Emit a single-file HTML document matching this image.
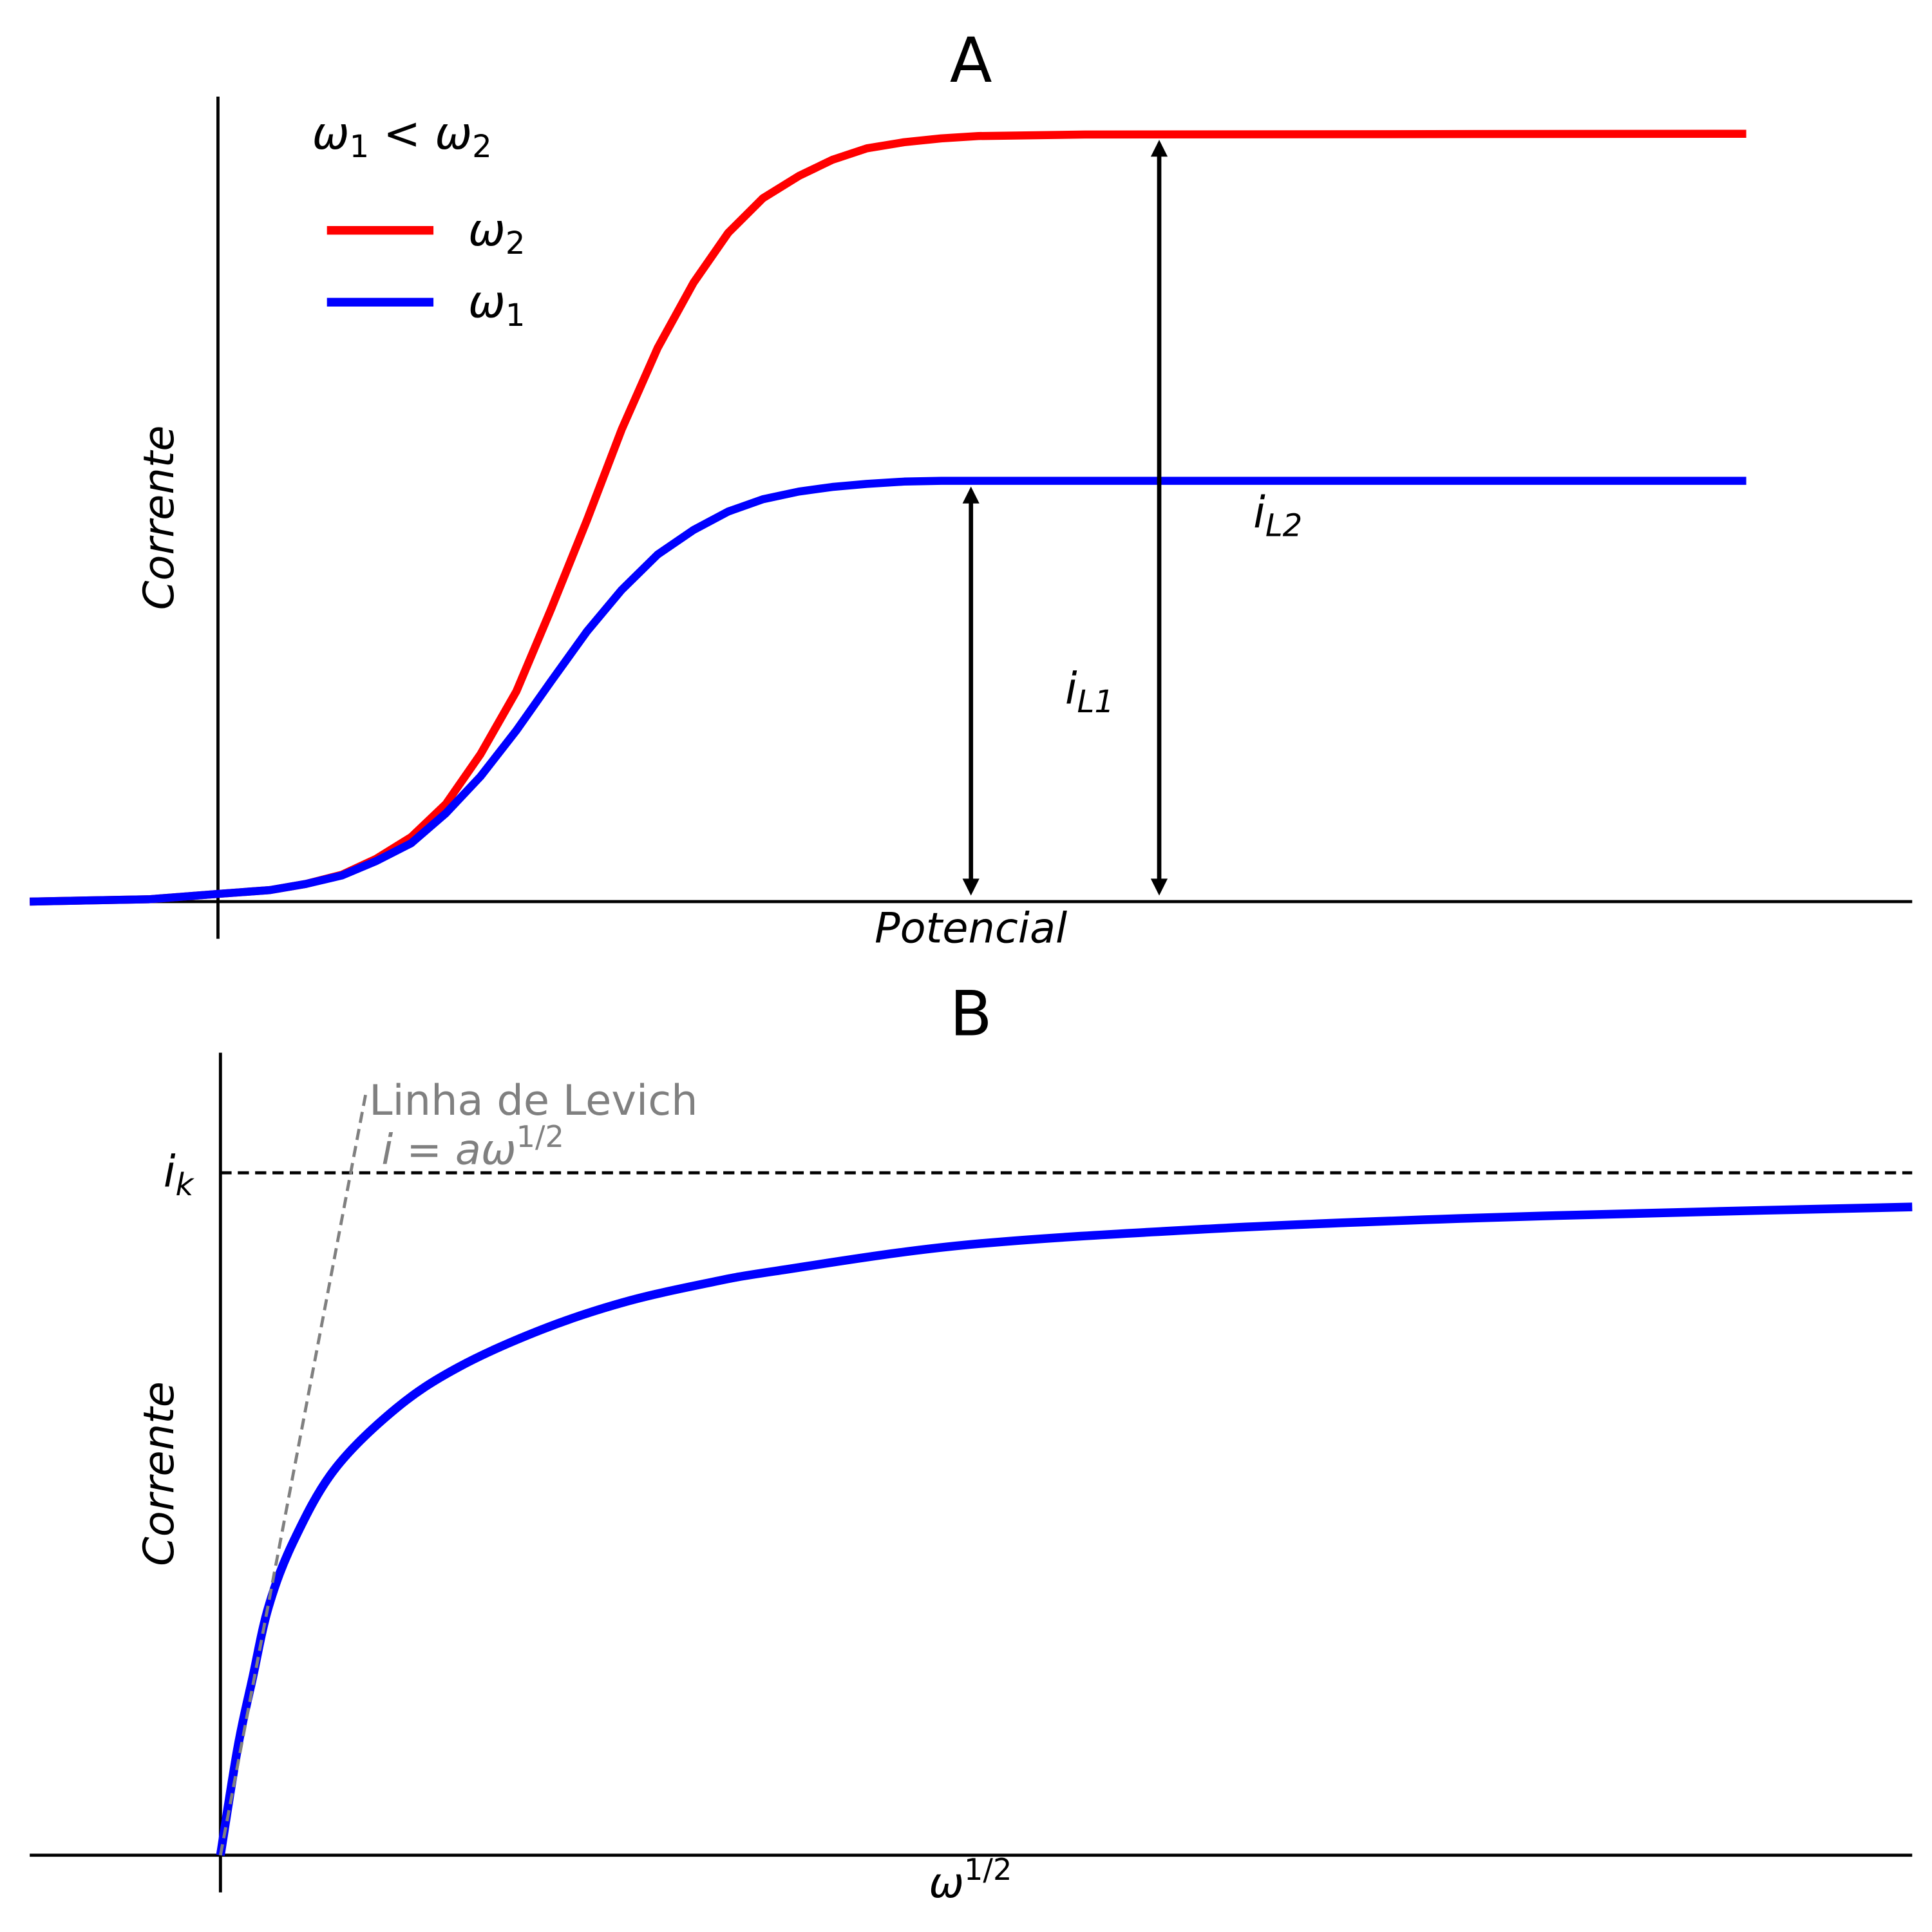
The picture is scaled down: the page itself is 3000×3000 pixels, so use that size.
<!DOCTYPE html>
<html><head><meta charset="utf-8"><style>
html,body{margin:0;padding:0;background:#fff;}
svg{display:block;}
text{font-family:"DejaVu Sans","Liberation Sans",sans-serif;}
.it{font-style:italic;}
</style></head>
<body>
<svg id="fig" width="3000" height="3000" viewBox="0 0 1560 1560" xmlns="http://www.w3.org/2000/svg">
  <rect x="0" y="0" width="1560" height="1560" fill="#fff"/>
  <!-- Panel A -->
  <g id="panelA">
    <text x="784" y="66" font-size="50" text-anchor="middle">A</text>
    <line x1="176" y1="78" x2="176" y2="758" stroke="#000" stroke-width="2.5"/>
    <line x1="24" y1="728" x2="1544" y2="728" stroke="#000" stroke-width="2.5"/>
    <text class="it" x="0" y="0" font-size="34" text-anchor="middle" transform="translate(140,418) rotate(-90)">Corrente</text>
    <text class="it" x="784" y="761" font-size="34" text-anchor="middle">Potencial</text>
    <g id="curvesA"></g>
    <g stroke="#000" stroke-width="3.5" fill="#000">
      <line x1="784" y1="402" x2="784" y2="714"/>
      <path d="M778,406 L784,394 L790,406 Z" stroke-width="1"/>
      <path d="M778,710 L784,722 L790,710 Z" stroke-width="1"/>
    </g>
    <g stroke="#000" stroke-width="3.5" fill="#000">
      <line x1="936" y1="122" x2="936" y2="714"/>
      <path d="M930,126 L936,114 L942,126 Z" stroke-width="1"/>
      <path d="M930,710 L936,722 L942,710 Z" stroke-width="1"/>
    </g>
    <text class="it" x="860" y="568" font-size="35">i<tspan font-size="25" dy="7">L1</tspan></text>
    <text class="it" x="1012" y="426" font-size="35">i<tspan font-size="25" dy="7">L2</tspan></text>
    <g>
      <text x="252" y="120" font-size="36"><tspan class="it">ω</tspan><tspan font-size="25" dy="7">1</tspan><tspan dy="-7"> &lt; </tspan><tspan class="it">ω</tspan><tspan font-size="25" dy="7">2</tspan></text>
      <line x1="264" y1="186" x2="350" y2="186" stroke="#ff0000" stroke-width="7"/>
      <text x="378" y="198" font-size="36"><tspan class="it">ω</tspan><tspan font-size="25" dy="7">2</tspan></text>
      <line x1="264" y1="244" x2="350" y2="244" stroke="#0000ff" stroke-width="7"/>
      <text x="378" y="256" font-size="36"><tspan class="it">ω</tspan><tspan font-size="25" dy="7">1</tspan></text>
    </g>
  </g>
  <!-- Panel B -->
  <g id="panelB">
    <text x="784" y="836" font-size="50" text-anchor="middle">B</text>
    <line x1="178" y1="850" x2="178" y2="1528" stroke="#000" stroke-width="2.5"/>
    <line x1="24" y1="1498" x2="1544" y2="1498" stroke="#000" stroke-width="2.5"/>
    <text class="it" x="0" y="0" font-size="34" text-anchor="middle" transform="translate(140,1190) rotate(-90)">Corrente</text>
    <text x="750" y="1532" font-size="34"><tspan class="it">ω</tspan><tspan font-size="24" dy="-14">1/2</tspan></text>
    <text class="it" x="132" y="958" font-size="35">i<tspan font-size="25" dy="7">k</tspan></text>
    <g id="curvesB"></g>
    <text x="298" y="900" font-size="34" fill="#808080">Linha de Levich</text>
    <text x="308" y="940" font-size="34" fill="#808080"><tspan class="it">i</tspan> = <tspan class="it">aω</tspan><tspan font-size="24" dy="-14">1/2</tspan></text>
  </g>
</svg>
<script>
// Panel A data
const potentialA = [-1.52,-0.56,0,0.42,0.71,1.0,1.28,1.56,1.84,2.12,2.41,2.69,2.98,3.26,3.55,3.84,4.12,4.40,4.69,4.96,5.24,5.54,5.84,6.14,7.0,12.34];
const currentOmega2 = [0,0.3,1.0,1.5,2.3,3.5,5.6,8.4,12.7,19.2,27.4,38.1,49.7,61.5,72.1,80.6,87.1,91.6,94.5,96.6,98.1,98.9,99.4,99.7,99.9,100];
const currentOmega1 = [0,0.3,1.0,1.5,2.3,3.4,5.3,7.6,11.5,16.3,22.3,28.7,35.2,40.6,45.2,48.4,50.8,52.4,53.4,54.0,54.4,54.7,54.8,54.8,54.8,54.8];
// Panel B data
const omegaSqrt = [0,0.14,0.26,0.39,0.59,0.92,1.42,1.92,2.59,3.25,3.92,4.48,6.0,8.0,10.0,12.0,13.66];
const currentB = [0,15.8,26.0,36.5,46.0,56.5,65.5,71.5,77.0,81.0,83.8,85.6,89.4,91.8,93.3,94.3,95.0];
const ikValue = [100];
const levichSlope = [95.1];
const levichEnd = [1.18];

const NS = 'http://www.w3.org/2000/svg';
// axis functions
const xA = e => 176 + e * 100;
const yA = i => 728 - i * 6.2;
const xB = w => 178 + w * 100;
const yB = i => 1498 - i * 5.51;

function smoothPath(pts){
  let d = 'M' + pts[0][0].toFixed(2) + ',' + pts[0][1].toFixed(2);
  for (let k = 0; k < pts.length - 1; k++) {
    const p0 = pts[k-1] || pts[k], p1 = pts[k], p2 = pts[k+1], p3 = pts[k+2] || pts[k+1];
    const c1 = [p1[0] + (p2[0]-p0[0])/6, p1[1] + (p2[1]-p0[1])/6];
    const c2 = [p2[0] - (p3[0]-p1[0])/6, p2[1] - (p3[1]-p1[1])/6];
    d += ' C' + c1.join(',') + ' ' + c2.join(',') + ' ' + p2.join(',');
  }
  return d;
}
function polyPath(pts){ return 'M' + pts.map(p => p[0].toFixed(2)+','+p[1].toFixed(2)).join(' L'); }

const gA = document.getElementById('curvesA');
const pr = document.createElementNS(NS, 'path');
pr.setAttribute('d', polyPath(potentialA.map((e,k)=>[xA(e), yA(currentOmega2[k])])));
pr.setAttribute('fill','none'); pr.setAttribute('stroke','#ff0000'); pr.setAttribute('stroke-width','6.5'); pr.setAttribute('stroke-linejoin','round');


gA.appendChild(pr);
const pb = document.createElementNS(NS, 'path');
pb.setAttribute('d', polyPath(potentialA.map((e,k)=>[xA(e), yA(currentOmega1[k])])));
pb.setAttribute('fill','none'); pb.setAttribute('stroke','#0000ff'); pb.setAttribute('stroke-width','6.5'); pb.setAttribute('stroke-linejoin','round');


gA.appendChild(pb);

const gB = document.getElementById('curvesB');
const ik = document.createElementNS(NS, 'line');
ik.setAttribute('x1', xB(0)); ik.setAttribute('x2', 1544);
ik.setAttribute('y1', yB(ikValue[0])); ik.setAttribute('y2', yB(ikValue[0]));
ik.setAttribute('stroke','#000'); ik.setAttribute('stroke-width','2.5'); ik.setAttribute('stroke-dasharray','9,5');


gB.appendChild(ik);
const cb = document.createElementNS(NS, 'path');
cb.setAttribute('d', smoothPath(omegaSqrt.map((w,k)=>[xB(w), yB(currentB[k])])));
cb.setAttribute('fill','none'); cb.setAttribute('stroke','#0000ff'); cb.setAttribute('stroke-width','7');


gB.appendChild(cb);
const lv = document.createElementNS(NS, 'line');
lv.setAttribute('x1', xB(0)); lv.setAttribute('y1', yB(0));
lv.setAttribute('x2', xB(levichEnd[0])); lv.setAttribute('y2', yB(levichSlope[0]*levichEnd[0]));
lv.setAttribute('stroke','#808080'); lv.setAttribute('stroke-width','2.5'); lv.setAttribute('stroke-dasharray','9,5');


gB.appendChild(lv);
</script>
</body></html>
